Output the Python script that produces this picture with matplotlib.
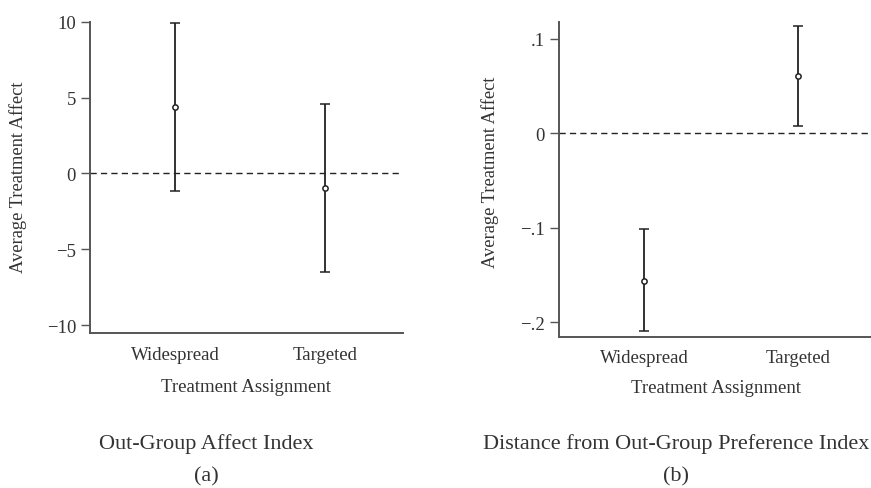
import matplotlib
matplotlib.use("Agg")
import matplotlib.pyplot as plt

plt.rcParams['font.family'] = ['Liberation Serif', 'DejaVu Serif']

categories = ["Widespread", "Targeted"]

# Panel (a): Out-Group Affect Index
a_est = [4.38, -0.97]
a_low = [-1.14, -6.47]
a_high = [9.92, 4.60]
a_yticks = [-10, -5, 0, 5, 10]
a_yticklabels = ["\u221210", "\u22125", "0", "5", "10"]

# Panel (b): Distance from Out-Group Preference Index
b_est = [-0.156, 0.061]
b_low = [-0.2097, 0.0074]
b_high = [-0.101, 0.1134]
b_yticks = [-0.2, -0.1, 0, 0.1]
b_yticklabels = ["\u2212.2", "\u2212.1", "0", ".1"]

titles = ["Out-Group Affect Index", "Distance from Out-Group Preference Index"]
letters = ["(a)", "(b)"]

W, H = 871, 489
fig = plt.figure(figsize=(W / 100, H / 100), dpi=100)

TXT = "#333333"
LINE = "#222222"
SPINE = "#555555"

def fx(px):
    return px / W

def fy(py):
    return 1 - py / H

def make_panel(rect, est, low, high, yticks, ylabels, ylim, xlim):
    ax = fig.add_axes(rect)
    x = list(range(1, len(categories) + 1))
    yerr = [[e - l for e, l in zip(est, low)], [h - e for e, h in zip(est, high)]]
    ax.axhline(0, color=LINE, lw=1.0, ls=(0, (4.5, 3)), zorder=1)
    ax.errorbar(x, est, yerr=yerr, fmt='o', color=LINE, ecolor=LINE,
                elinewidth=1.3, capsize=3.6, capthick=1.3,
                markersize=3.8, mfc='white', mec=LINE, mew=1.1, zorder=3)
    ax.set_xlim(*xlim)
    ax.set_ylim(*ylim)
    ax.set_xticks(x)
    ax.set_xticklabels(categories)
    ax.set_yticks(yticks)
    ax.set_yticklabels(ylabels)
    for s in ["top", "right"]:
        ax.spines[s].set_visible(False)
    for s in ["left", "bottom"]:
        ax.spines[s].set_color(SPINE)
        ax.spines[s].set_linewidth(1.4)
    ax.tick_params(axis='x', length=0, pad=9, labelsize=13.5, labelcolor=TXT)
    ax.tick_params(axis='y', length=6.5, width=1.0, color=SPINE, pad=3.5,
                   labelsize=13.5, labelcolor=TXT)
    return ax

# left panel
make_panel([fx(90), fy(334.3), fx(402.7 - 90), (334.3 - 22.7) / H],
           a_est, a_low, a_high, a_yticks, a_yticklabels,
           (-10.53, 10.0), (0.434, 2.515))
# right panel
make_panel([fx(559), fy(337.7), fx(872 - 559), (337.7 - 22.7) / H],
           b_est, b_low, b_high, b_yticks, b_yticklabels,
           (-0.2153, 0.118), (0.444, 2.485))

# axis labels
fig.text(fx(18), fy(177), "Average Treatment Affect", rotation=90,
         ha='center', va='center', fontsize=13.3, color=TXT)
fig.text(fx(490), fy(172), "Average Treatment Affect", rotation=90,
         ha='center', va='center', fontsize=13.3, color=TXT)
fig.text(fx(246), fy(388), "Treatment Assignment", ha='center', va='center',
         fontsize=13.5, color=TXT)
fig.text(fx(716), fy(389), "Treatment Assignment", ha='center', va='center',
         fontsize=13.5, color=TXT)

# captions
for cx, t, l in zip([206, 676], titles, letters):
    fig.text(fx(cx), fy(444), t, ha='center', va='center', fontsize=16, color=TXT)
    fig.text(fx(cx), fy(477), l, ha='center', va='center', fontsize=16, color=TXT)

fig.savefig("out.png", dpi=100)
